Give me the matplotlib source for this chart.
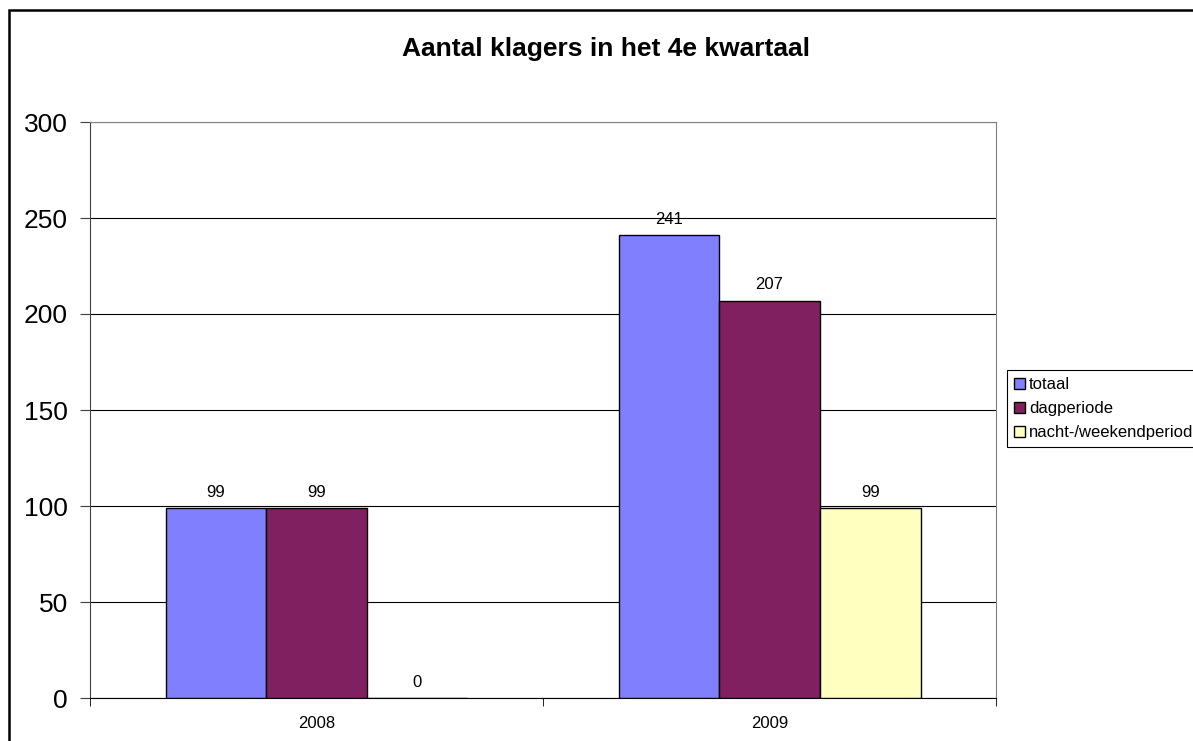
import matplotlib.pyplot as plt
import numpy as np
from matplotlib.patches import Rectangle

plt.rcParams['font.family'] = ['Liberation Sans', 'DejaVu Sans']

years = ['2008', '2009']
series = ['totaal', 'dagperiode', 'nacht-/weekendperiode']
totaal = [99, 241]
dagperiode = [99, 207]
nacht = [0, 99]
colors = ['#8080FF', '#802060', '#FFFFC0']

fig = plt.figure(figsize=(11.93, 7.41), dpi=100)
ax = fig.add_axes([90 / 1193, 43 / 741, 906 / 1193, 576 / 741])

x = np.arange(len(years))
w = 1 / 4.5
handles = []
for i, (vals, c) in enumerate(zip([totaal, dagperiode, nacht], colors)):
    bars = ax.bar(x + (i - 1) * w, vals, w, color=c, edgecolor='black', linewidth=1, zorder=3)
    handles.append(bars)
    for b, v in zip(bars, vals):
        ax.annotate(str(v), (b.get_x() + b.get_width() / 2, v), xytext=(0, 6),
                    textcoords='offset points', ha='center', va='bottom', fontsize=12)

ax.set_xlim(-0.5, 1.5)
ax.set_ylim(0, 300)
ax.set_yticks(range(0, 301, 50))
ax.yaxis.grid(True, color='black', linewidth=0.8, zorder=0)
ax.tick_params(axis='y', labelsize=19, length=7, pad=9, color='#404040')
ax.set_xticks(x)
ax.set_xticklabels(years)
ax.set_xticks([-0.5, 0.5, 1.5], minor=True)
ax.tick_params(axis='x', which='major', length=0, labelsize=12, pad=13)
ax.tick_params(axis='x', which='minor', length=6, color='black')
for s in ['top', 'right']:
    ax.spines[s].set_color('#808080')
ax.spines['left'].set_color('#404040')
ax.spines['bottom'].set_color('black')

fig.text(606 / 1193, 1 - 49 / 741, 'Aantal klagers in het 4e kwartaal',
         ha='center', va='center', fontsize=19, fontweight='bold')

# legend sticks out past the right edge, like in the original
leg = fig.legend(handles, series, loc='upper left', bbox_to_anchor=(1007 / 1193, 1 - 370 / 741),
                 borderaxespad=0, fancybox=False, edgecolor='black', framealpha=1,
                 fontsize=12, handlelength=0.65, handleheight=0.65, handletextpad=0.25,
                 labelspacing=0.55, borderpad=0.42)
leg.get_frame().set_linewidth(0.8)

fig.patches.append(Rectangle((9 / 1193, -0.1), 1.2, 1 - 10 / 741 + 0.1, transform=fig.transFigure,
                             fill=False, edgecolor='black', linewidth=1.8))

fig.savefig('out.png', dpi=100)
